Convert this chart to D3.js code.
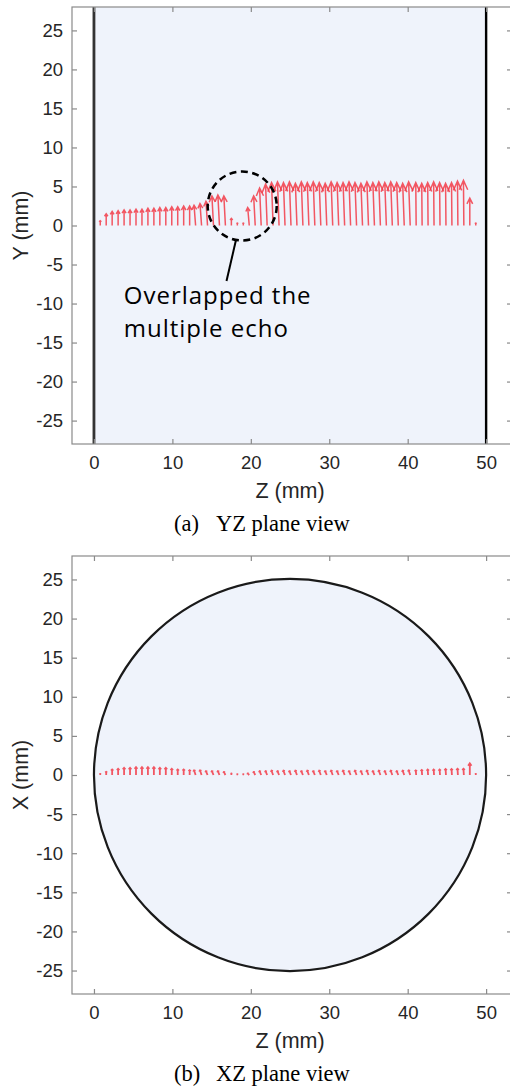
<!DOCTYPE html>
<html><head><meta charset="utf-8">
<script src="https://cdn.jsdelivr.net/npm/d3@7"></script>
<style>body{margin:0;background:#fff}</style></head>
<body><svg id="c" width="510" height="1092"></svg>
<script>
// ---------------- data ----------------
const zTicks = [0, 10, 20, 30, 40, 50];
const vTicks = [25, 20, 15, 10, 5, 0, -5, -10, -15, -20, -25];
const zDomain = [-2.8, 53.3];
const vDomain = [-28, 28];
const pipeZ = [0, 50];           // pipe extent along Z (mm)
const pipeRadius = 25;           // pipe radius (mm)
const pipeCenter = [25, 0];      // circle centre in XZ view (z, x)

// arrow base positions along Z (mm)
const arrowZ = [0.80,1.56,2.32,3.08,3.84,4.60,5.36,6.12,6.88,7.64,8.40,9.16,9.92,10.68,11.44,12.20,
  12.96,13.72,14.48,15.24,16.00,16.76,17.52,18.28,19.04,19.80,20.56,21.32,22.08,22.84,23.60,24.36,
  25.12,25.88,26.64,27.40,28.16,28.92,29.68,30.44,31.20,31.96,32.72,33.48,34.24,35.00,35.76,36.52,
  37.28,38.04,38.80,39.56,40.32,41.08,41.84,42.60,43.36,44.12,44.88,45.64,46.40,47.16,47.92,48.68];
// Z component of each vector (mm)
const arrowU = [0,0,0,0,0,0,0,0,0,0,0,0,0,0,0,0,
  -0.2,-0.2,-0.2,-0.2,-0.2,-0.2,0,0,0,-0.2,-0.2,-0.2,-0.2,-0.2,-0.2,-0.2,
  -0.2,-0.2,-0.2,-0.2,-0.2,-0.2,-0.2,-0.2,-0.2,-0.2,-0.2,-0.2,-0.2,-0.2,-0.2,-0.2,
  -0.2,-0.2,-0.2,-0.2,-0.2,-0.05,-0.05,-0.05,-0.05,-0.05,-0.05,-0.05,-0.05,-0.05,0,0];
// Y component (YZ view)
const arrowY = [0.6,1.5,1.8,1.9,2.0,2.0,2.1,2.1,2.2,2.2,2.3,2.3,2.4,2.4,2.5,2.5,
  2.6,2.8,3.1,3.8,3.9,3.8,0.9,0.3,0.3,2.3,3.8,4.8,5.3,5.5,5.6,5.5,
  5.6,5.4,5.6,5.5,5.6,5.5,5.4,5.6,5.5,5.5,5.6,5.5,5.4,5.6,5.5,5.6,
  5.5,5.6,5.5,5.4,5.6,5.5,5.4,5.5,5.6,5.5,5.4,5.5,5.7,5.8,3.5,0.3];
// X component (XZ view)
const arrowX = [0.15,0.4,0.7,0.8,0.9,0.9,1.0,1.0,1.0,1.0,0.9,0.9,0.8,0.7,0.7,0.6,
  0.6,0.6,0.5,0.5,0.5,0.4,0.2,0.1,0.1,0.2,0.4,0.5,0.5,0.55,0.5,0.55,
  0.5,0.55,0.5,0.55,0.5,0.55,0.5,0.55,0.5,0.55,0.5,0.55,0.5,0.55,0.5,0.55,
  0.5,0.55,0.5,0.55,0.6,0.6,0.65,0.7,0.7,0.7,0.75,0.75,0.8,0.8,1.5,0.15];

const annoCircle = {z: 18.9, y: 2.5, r: 4.4};
const annoLine = [[18.1, -1.9], [16.9, -7.1]];
const annoText = {z: 3.8, lines: [["Overlapped the", -10.0], ["multiple echo", -14.3]]};

// ---------------- layout ----------------
const svg = d3.select("#c");
const L = 72, R = 512;
const panels = [
  {top: 7, bottom: 444, ylab: "Y (mm)", comp: arrowY, cap: "(a)", capText: "YZ plane view"},
  {top: 556, bottom: 994, ylab: "X (mm)", comp: arrowX, cap: "(b)", capText: "XZ plane view"}
];
const sx = d3.scaleLinear().domain(zDomain).range([L, R]);
const red = "#f23a46";
const tickFont = "'Liberation Sans', Arial, sans-serif";

panels.forEach((p, pi) => {
  const sy = d3.scaleLinear().domain(vDomain).range([p.bottom, p.top]);
  const g = svg.append("g");

  if (pi === 0) {
    g.append("rect").attr("x", sx(pipeZ[0])).attr("y", p.top)
      .attr("width", sx(pipeZ[1]) - sx(pipeZ[0])).attr("height", p.bottom - p.top)
      .attr("fill", "#eff3fb");
    g.append("line").attr("x1", sx(pipeZ[0])).attr("x2", sx(pipeZ[0]))
      .attr("y1", p.top).attr("y2", p.bottom).attr("stroke", "#333").attr("stroke-width", 2.8);
    g.append("line").attr("x1", sx(pipeZ[1])).attr("x2", sx(pipeZ[1]))
      .attr("y1", p.top).attr("y2", p.bottom).attr("stroke", "#000").attr("stroke-width", 2.4);
  } else {
    g.append("circle").attr("cx", sx(pipeCenter[0])).attr("cy", sy(pipeCenter[1]))
      .attr("r", sx(pipeRadius) - sx(0))
      .attr("fill", "#eff3fb").attr("stroke", "#1a1a1a").attr("stroke-width", 2.2);
  }

  // arrows
  const arrowPath = (i) => {
    const x0 = sx(arrowZ[i]), y0 = sy(0);
    const x1 = sx(arrowZ[i] + arrowU[i]), y1 = sy(p.comp[i]);
    const dx = x1 - x0, dy = y1 - y0, len = Math.hypot(dx, dy) || 1;
    const ux = dx / len, uy = dy / len;
    const h = 0.21 * len, w = 0.075 * len + 0.8;
    const bx = x1 - ux * h, by = y1 - uy * h;
    return `M${x0},${y0}L${x1},${y1}M${bx - uy * w},${by + ux * w}L${x1},${y1}L${bx + uy * w},${by - ux * w}`;
  };
  g.append("g").selectAll("path").data(d3.range(arrowZ.length)).join("path")
    .attr("d", arrowPath).attr("fill", "none").attr("stroke", red)
    .attr("stroke-width", pi === 0 ? 1.5 : 1.8).attr("stroke-opacity", 0.85).attr("stroke-linejoin", "miter");

  // axes box
  g.append("rect").attr("x", L).attr("y", p.top).attr("width", R - L).attr("height", p.bottom - p.top)
    .attr("fill", "none").attr("stroke", "#8a8a8a").attr("stroke-width", 1.2);

  // axes (inward ticks)
  const ax = (axis, tr) => {
    const a = g.append("g").attr("transform", tr).call(axis);
    a.select(".domain").remove();
    a.selectAll("line").attr("stroke", "#8a8a8a").attr("stroke-width", 1.2);
    a.selectAll("text").attr("font-family", tickFont).attr("font-size", 18.5).attr("fill", "#262626");
    return a;
  };
  ax(d3.axisBottom(sx).tickValues(zTicks).tickSize(-5).tickPadding(12).tickFormat(d3.format("d")),
     `translate(0,${p.bottom})`);
  ax(d3.axisTop(sx).tickValues(zTicks).tickSize(-5).tickFormat(""), `translate(0,${p.top})`);
  ax(d3.axisLeft(sy).tickValues(vTicks).tickSize(-5).tickPadding(9).tickFormat(d3.format("d")),
     `translate(${L},0)`);
  ax(d3.axisRight(sy).tickValues(vTicks).tickSize(-5).tickFormat(""), `translate(${R},0)`);
  g.selectAll(".tick text").text(function(){ return d3.select(this).text().replace("−", "-"); });

  // labels
  g.append("text").attr("x", (sx(pipeZ[0]) + sx(pipeZ[1])) / 2).attr("y", p.bottom + 54)
    .attr("text-anchor", "middle").attr("font-family", tickFont).attr("font-size", 21.5)
    .attr("fill", "#262626").text("Z (mm)");
  g.append("text").attr("transform", `translate(28,${(p.top + p.bottom) / 2}) rotate(-90)`)
    .attr("text-anchor", "middle").attr("font-family", tickFont).attr("font-size", 21.5)
    .attr("fill", "#262626").text(p.ylab);
  const cap = g.append("text").attr("y", p.bottom + 87)
    .attr("font-family", "'Liberation Serif', 'Times New Roman', serif").attr("font-size", 22.5).attr("fill", "#000");
  cap.append("tspan").attr("x", 174).text(p.cap);
  cap.append("tspan").attr("x", 216).text(p.capText);

  if (pi === 0) {
    g.append("circle").attr("cx", sx(annoCircle.z)).attr("cy", sy(annoCircle.y))
      .attr("r", sx(annoCircle.r) - sx(0)).attr("fill", "none").attr("stroke", "#000")
      .attr("stroke-width", 2.5).attr("stroke-dasharray", "7,4.5");
    g.append("line").attr("x1", sx(annoLine[0][0])).attr("y1", sy(annoLine[0][1]))
      .attr("x2", sx(annoLine[1][0])).attr("y2", sy(annoLine[1][1]))
      .attr("stroke", "#000").attr("stroke-width", 2);
    annoText.lines.forEach(([t, y]) => {
      g.append("text").attr("x", sx(annoText.z)).attr("y", sy(y))
        .attr("font-family", "'Open Sans', 'Noto Sans', sans-serif").attr("font-size", 24)
        .attr("letter-spacing", 1).attr("fill", "#000").text(t);
    });
  }
});
</script>
</body></html>
